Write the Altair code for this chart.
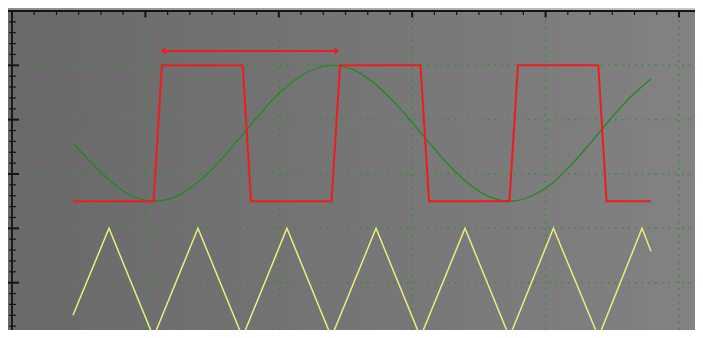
import altair as alt
import pandas as pd

# ---- plot extents (in screen divisions) ----
X_MIN, X_MAX = -0.03, 5.12
Y_MIN, Y_MAX = 0.129, 6.055
Y_TOP = 6  # top axis position

# ---- signals (in divisions) ----
sq_x = [0.457, 1.061, 1.124, 1.729, 1.792, 2.395, 2.459, 3.062, 3.126, 3.729, 3.793, 4.395, 4.457, 4.790]
sq_y = [2.5, 2.5, 5.0, 5.0, 2.5, 2.5, 5.0, 5.0, 2.5, 2.5, 5.0, 5.0, 2.5, 2.5]

sine_x = [0.457, 0.60, 0.75, 0.90, 1.07, 1.25, 1.40, 1.55, 1.70, 1.85, 2.00, 2.15, 2.30, 2.40,
          2.55, 2.70, 2.85, 3.00, 3.15, 3.30, 3.45, 3.60, 3.74, 3.90, 4.05, 4.20, 4.35, 4.50, 4.65, 4.79]
sine_y = [3.56, 3.20, 2.84, 2.60, 2.50, 2.61, 2.86, 3.22, 3.64, 4.08, 4.48, 4.78, 4.96, 5.00,
          4.93, 4.70, 4.36, 3.95, 3.51, 3.10, 2.77, 2.56, 2.50, 2.60, 2.83, 3.19, 3.61, 4.05, 4.45, 4.75]

tri_x = [0.457, 0.727, 1.061, 1.394, 1.728, 2.061, 2.395, 2.729, 3.062, 3.396, 3.729, 4.059, 4.397, 4.723, 4.790]
tri_y = [0.40, 2.0, 0.0, 2.0, 0.0, 2.0, 0.0, 2.0, 0.0, 2.0, 0.0, 2.0, 0.0, 2.0, 1.58]

arrow_x = [1.124, 2.444]
arrow_y = 5.265

# ---- grid and ticks ----
grid_x = [1, 2, 3, 4, 5]
grid_y = [1, 2, 3, 4, 5]
major_x = [0, 1, 2, 3, 4, 5]
minor_x = [k / 6 for k in range(1, 31) if k % 6 != 0]
major_y = [1, 2, 3, 4, 5, 6]
minor_y = [k / 5 for k in range(1, 30) if k % 5 != 0]

xs = alt.Scale(domain=[X_MIN, X_MAX], nice=False, zero=False)
ys = alt.Scale(domain=[Y_MIN, Y_MAX], nice=False, zero=False)


def X(f):
    return alt.X(f, type="quantitative", scale=xs, axis=None)


def Y(f):
    return alt.Y(f, type="quantitative", scale=ys, axis=None)


# background
bg_df = pd.DataFrame({"x": [X_MIN], "x2": [X_MAX], "y": [Y_MIN], "y2": [Y_TOP]})
bg = alt.Chart(bg_df).mark_rect(
    fill={"gradient": "linear", "x1": 0, "x2": 1, "y1": 0, "y2": 0,
          "stops": [{"offset": 0, "color": "#696969"}, {"offset": 1, "color": "#828282"}]},
    strokeWidth=0,
).encode(x=X("x"), x2=alt.X2("x2"), y=Y("y"), y2=alt.Y2("y2"))

band_df = pd.DataFrame({"x": [X_MIN], "x2": [X_MAX], "y": [Y_TOP], "y2": [Y_MAX]})
band = alt.Chart(band_df).mark_rect(
    fill={"gradient": "linear", "x1": 0, "x2": 1, "y1": 0, "y2": 0,
          "stops": [{"offset": 0, "color": "#8c8c8c"}, {"offset": 1, "color": "#c8c8c8"}]},
    strokeWidth=0,
).encode(x=X("x"), x2=alt.X2("x2"), y=Y("y"), y2=alt.Y2("y2"))

grid_color = "#2e8f2e"
vgrid = alt.Chart(pd.DataFrame({"x": grid_x, "y": [Y_MIN] * 5, "y2": [Y_TOP] * 5})).mark_rule(
    color=grid_color, strokeDash=[1.5, 5.2], strokeWidth=1.5
).encode(x=X("x"), y=Y("y"), y2=alt.Y2("y2"))
hgrid = alt.Chart(pd.DataFrame({"y": grid_y, "x": [0] * 5, "x2": [X_MAX] * 5})).mark_rule(
    color=grid_color, strokeDash=[1.5, 5.2], strokeWidth=1.5
).encode(y=Y("y"), x=X("x"), x2=alt.X2("x2"))

axis_color = "#141414"
left_axis = alt.Chart(pd.DataFrame({"x": [0], "y": [Y_MIN], "y2": [Y_TOP]})).mark_rule(
    color=axis_color, strokeWidth=1.8
).encode(x=X("x"), y=Y("y"), y2=alt.Y2("y2"))
top_axis = alt.Chart(pd.DataFrame({"y": [Y_TOP], "x": [X_MIN], "x2": [X_MAX]})).mark_rule(
    color=axis_color, strokeWidth=1.8
).encode(y=Y("y"), x=X("x"), x2=alt.X2("x2"))


def vticks(xvals, yval, off1, off2, w):
    df = pd.DataFrame({"x": xvals, "y": [yval] * len(xvals)})
    return alt.Chart(df).mark_rule(color=axis_color, strokeWidth=w, yOffset=off1, y2Offset=off2).encode(
        x=X("x"), y=Y("y"), y2=alt.Y2("y"))


def hticks(yvals, xval, off1, off2, w):
    df = pd.DataFrame({"y": yvals, "x": [xval] * len(yvals)})
    return alt.Chart(df).mark_rule(color=axis_color, strokeWidth=w, xOffset=off1, x2Offset=off2).encode(
        y=Y("y"), x=X("x"), x2=alt.X2("x"))


ticks = [
    vticks(minor_x, Y_TOP, 0, 4, 1.2),
    vticks(major_x, Y_TOP, 0, 6.5, 2),
    hticks(minor_y, 0, -3, 4, 1.2),
    hticks(major_y, 0, -6, 7, 2),
]

tri = alt.Chart(pd.DataFrame({"x": tri_x, "y": tri_y, "i": range(len(tri_x))})).mark_line(
    color="#ecec80", strokeWidth=1.5
).encode(x=X("x"), y=Y("y"), order="i:Q")

sine = alt.Chart(pd.DataFrame({"x": sine_x, "y": sine_y, "i": range(len(sine_x))})).mark_line(
    color="#1f8a1f", strokeWidth=1.3, interpolate="monotone"
).encode(x=X("x"), y=Y("y"), order="i:Q")

square = alt.Chart(pd.DataFrame({"x": sq_x, "y": sq_y, "i": range(len(sq_x))})).mark_line(
    color="#f01c1c", strokeWidth=2
).encode(x=X("x"), y=Y("y"), order="i:Q")

arrow_df = pd.DataFrame({"x": [arrow_x[0]], "x2": [arrow_x[1]], "y": [arrow_y]})
arrow_line = alt.Chart(arrow_df).mark_rule(color="#e8201c", strokeWidth=2).encode(
    x=X("x"), x2=alt.X2("x2"), y=Y("y"))
head_l = alt.Chart(pd.DataFrame({"x": [arrow_x[0]], "y": [arrow_y]})).mark_point(
    shape="M0,0L1.8,-1.5M0,0L1.8,1.5", size=16, filled=False, color="#e8201c", strokeWidth=1.5, opacity=1
).encode(x=X("x"), y=Y("y"))
head_r = alt.Chart(pd.DataFrame({"x": [arrow_x[1]], "y": [arrow_y]})).mark_point(
    shape="M0,0L-1.8,-1.5M0,0L-1.8,1.5", size=16, filled=False, color="#e8201c", strokeWidth=1.5, opacity=1
).encode(x=X("x"), y=Y("y"))

chart = alt.layer(
    bg, band, vgrid, hgrid, left_axis, top_axis, *ticks, tri, sine, square, arrow_line, head_l, head_r
).properties(
    width=687, height=322, padding=0, autosize="none"
).configure_view(stroke=None)

chart.save("out.html", embed_options={"renderer": "svg", "actions": False})
